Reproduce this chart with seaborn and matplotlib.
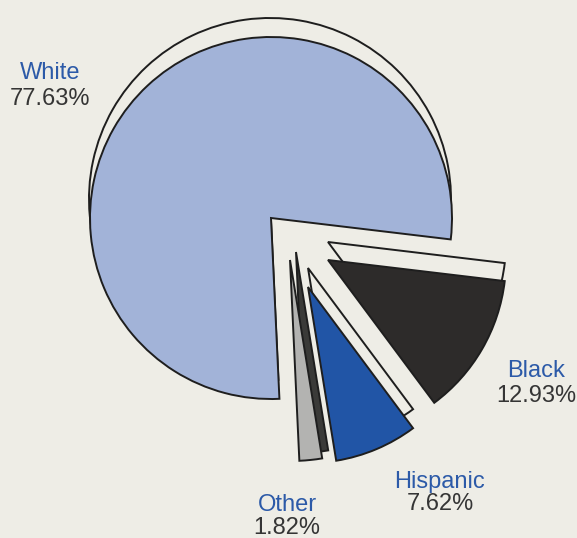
import numpy as np
import matplotlib
matplotlib.use("Agg")
import matplotlib.pyplot as plt
from matplotlib.patches import Wedge
import seaborn as sns

# ---- data ----
categories = ["White", "Black", "Hispanic", "Other"]
percentages = [77.63, 12.93, 7.62, 1.82]
value_labels = ["77.63%", "12.93%", "7.62%", "1.82%"]

# ---- style ----
sns.set_theme(style="white")
plt.rcParams['font.family'] = ['Liberation Sans', 'DejaVu Sans']

bg = "#eeede6"
face_colors = ["#a2b3d8", "#2d2b2a", "#2155a6", "#b3b3b1"]
band_colors = [bg, bg, bg, "#3a3a38"]
name_color = "#2c5aa8"
pct_color = "#353535"

W, H = 577, 538
fig = plt.figure(figsize=(W / 100, H / 100), dpi=100)
fig.patch.set_facecolor(bg)
ax = fig.add_axes([0, 0, 1, 1])
ax.set_facecolor(bg)
ax.set_xlim(0, W)
ax.set_ylim(0, H)
ax.set_aspect("equal")
ax.axis("off")

# geometry (pixel layout)
center = np.array([271.0, H - 218.0])
start_angle = -6.8                    # edge between White and Black
offsets = [(0, 0), (57, -42), (37, -69), (19, -42)]
radii = [181, 178, 176, 201]
band_shift = [(-1, 19), (0, 18), (0, 19), (6, 8)]
label_pos = [(50, 79, 105), (536, 377, 402), (440, 488, 510), (287, 511, 534)]

spans = [p * 3.6 for p in percentages]
angles = []
# White counter-clockwise from start, rest clockwise from start
angles.append((start_angle, start_angle + spans[0]))
cur = start_angle
for s in spans[1:]:
    angles.append((cur - s, cur))
    cur -= s

lw = 1.4
for i, cat in enumerate(categories):
    t1, t2 = angles[i]
    c = center + np.array(offsets[i], dtype=float)
    bs = np.array(band_shift[i], dtype=float)
    band = Wedge(tuple(c + bs), radii[i], t1, t2, facecolor=band_colors[i],
                 edgecolor="#1e1e1e", linewidth=lw, joinstyle="miter", zorder=2 + 2 * i)
    face = Wedge(tuple(c), radii[i], t1, t2, facecolor=face_colors[i],
                 edgecolor="#1e1e1e", linewidth=lw, joinstyle="miter", zorder=3 + 2 * i)
    ax.add_patch(band)
    ax.add_patch(face)

for i, cat in enumerate(categories):
    x, yb1, yb2 = label_pos[i]
    ax.text(x, H - yb1, cat, ha="center", va="baseline", fontsize=17,
            color=name_color, zorder=20)
    ax.text(x, H - yb2, value_labels[i], ha="center", va="baseline", fontsize=17,
            color=pct_color, zorder=20)

fig.savefig("out.png", dpi=100, facecolor=bg)
